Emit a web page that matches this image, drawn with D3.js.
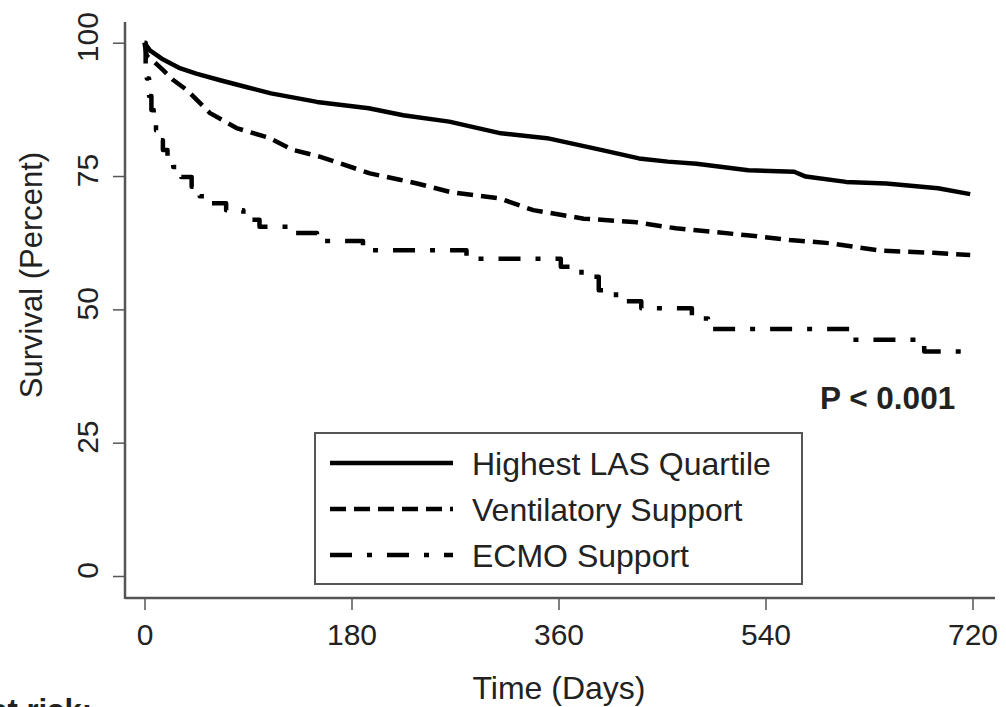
<!DOCTYPE html>
<html>
<head>
<meta charset="utf-8">
<script src="https://cdn.jsdelivr.net/npm/d3@7"></script>
<style>
  body { margin: 0; background: #fff; }
  text { font-family: "Liberation Sans", Arial, sans-serif; fill: #222; }
</style>
</head>
<body>
<script>
// survival curves: [day, percent]
var lasQuartile = [[0,100],[5,98.5],[15,97],[30,95.3],[45,94.2],[65,93.0],[90,91.6],[110,90.5],
  [150,88.9],[195,87.7],[225,86.4],[265,85.2],[310,83],[350,82.1],[395,80],[430,78.3],[455,77.7],
  [480,77.3],[525,76.1],[565,75.8],[575,74.9],[610,73.9],[645,73.6],[690,72.7],[718,71.6]];
var ventilatory = [[0,100],[2,97.5],[8,96.5],[16,94.9],[25,93],[37,91.1],[57,86.8],[80,84],
  [109,82.1],[129,79.9],[153,78.6],[196,75.5],[222,74.3],[237,73.6],[266,72],[309,70.8],[338,68.6],
  [382,67],[425,66.4],[462,65.2],[524,63.9],[561,63],[596,62.4],[640,61],[686,60.6],[718,60.2]];
var ecmo = [[0,100],[1,96],[2,93.3],[4,90],[6,87.4],[8,85.5],[10,83.6],[13,81.7],[16,79.9],
  [20,78.2],[25,76.7],[32,74.8],[41,73],[48,71.2],[54,69.9],[71,68.6],[86,66.8],[100,65.5],
  [129,64.3],[150,62.8],[190,61.1],[280,59.5],[362,58],[380,56.1],[395,53.6],[410,51.5],
  [432,50.2],[476,48.3],[490,46.3],[615,44.3],[678,42.1],[715,42.1]];

var xTicks = [0, 180, 360, 540, 720];
var yTicks = [0, 25, 50, 75, 100];
var seriesNames = ["Highest LAS Quartile", "Ventilatory Support", "ECMO Support"];
var dashes = [null, "16,8", "22,15,5,15"];

var width = 1006, height = 707;
var svg = d3.select("body").append("svg")
  .attr("width", width)
  .attr("height", height);

var x = d3.scaleLinear().domain([0, 720]).range([144.5, 972.5]);
var y = d3.scaleLinear().domain([0, 100]).range([576, 42.7]);

// axes
var xAxis = svg.append("g")
  .attr("transform", "translate(0,598)")
  .call(d3.axisBottom(x).tickValues(xTicks).tickSize(12).tickPadding(14).tickSizeOuter(0));
xAxis.select(".domain").remove();
xAxis.append("line")
  .attr("x1", 125).attr("x2", 995)
  .attr("stroke", "#555").attr("stroke-width", 2.5);
xAxis.selectAll(".tick line").attr("stroke", "#555").attr("stroke-width", 1.5);
xAxis.selectAll(".tick text")
  .attr("font-size", 30)
  .style("font-family", "Liberation Sans, Arial, sans-serif")
  .attr("fill", "#222");

var yAxis = svg.append("g")
  .attr("transform", "translate(125,0)")
  .call(d3.axisLeft(y).tickValues(yTicks).tickSize(12).tickSizeOuter(0));
yAxis.select(".domain").remove();
yAxis.append("line")
  .attr("y1", 22).attr("y2", 599)
  .attr("stroke", "#555").attr("stroke-width", 2.5);
yAxis.selectAll(".tick line").attr("stroke", "#555").attr("stroke-width", 1.5);
yAxis.selectAll(".tick text")
  .attr("x", null).attr("dy", null)
  .attr("transform", "translate(-27,-6) rotate(-90)")
  .attr("text-anchor", "middle")
  .attr("font-size", 30)
  .style("font-family", "Liberation Sans, Arial, sans-serif")
  .attr("fill", "#222");

svg.append("text")
  .attr("transform", "translate(42,275) rotate(-90)")
  .attr("text-anchor", "middle")
  .attr("font-size", 31)
  .text("Survival (Percent)");

svg.append("text")
  .attr("x", 559).attr("y", 699)
  .attr("text-anchor", "middle")
  .attr("font-size", 32)
  .text("Time (Days)");

svg.append("text")
  .attr("x", 92).attr("y", 721)
  .attr("text-anchor", "end")
  .attr("font-size", 31)
  .attr("font-weight", "bold")
  .text("Number at risk:");

// curves
var smooth = d3.line().x(d => x(d[0])).y(d => y(d[1]));
var step = d3.line().x(d => x(d[0])).y(d => y(d[1])).curve(d3.curveStepAfter);

var curves = [
  {data: lasQuartile, gen: smooth},
  {data: ventilatory, gen: smooth},
  {data: ecmo, gen: step}
];

curves.forEach(function(c, i) {
  svg.append("path")
    .attr("d", c.gen(c.data))
    .attr("fill", "none")
    .attr("stroke", "#000")
    .attr("stroke-width", 4.5)
    .attr("stroke-linejoin", "round")
    .attr("stroke-dasharray", dashes[i]);
});

svg.append("text")
  .attr("x", 820).attr("y", 409)
  .attr("font-size", 31.5)
  .attr("font-weight", "bold")
  .attr("fill", "#111")
  .text("P < 0.001");

// legend
var legend = svg.append("g");
legend.append("rect")
  .attr("x", 315).attr("y", 433)
  .attr("width", 487).attr("height", 151)
  .attr("fill", "#fff")
  .attr("stroke", "#555")
  .attr("stroke-width", 2);

var rows = legend.selectAll("g.row")
  .data(seriesNames)
  .enter().append("g")
  .attr("class", "row")
  .attr("transform", (d, i) => "translate(0," + (463 + i * 46) + ")");
rows.append("line")
  .attr("x1", 330).attr("x2", 453)
  .attr("stroke", "#000")
  .attr("stroke-width", 4.5)
  .attr("stroke-dasharray", (d, i) => dashes[i]);
rows.append("text")
  .attr("x", 472).attr("dy", "0.36em")
  .attr("font-size", 32)
  .text(d => d);
</script>
</body>
</html>
